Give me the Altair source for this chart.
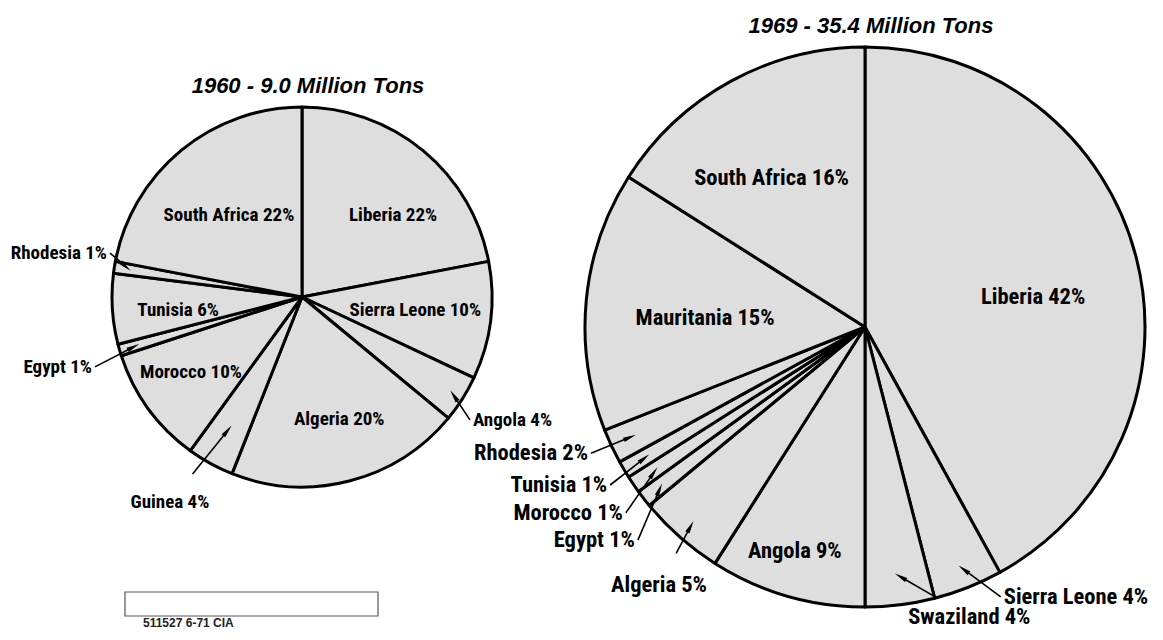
import math
import altair as alt
import pandas as pd

# ---------------- data ----------------
title_1960 = "1960 - 9.0 Million Tons"
title_1969 = "1969 - 35.4 Million Tons"

countries_1960 = ["Liberia", "Sierra Leone", "Angola", "Algeria", "Guinea",
                  "Morocco", "Egypt", "Tunisia", "Rhodesia", "South Africa"]
share_1960 = [22, 10, 4, 20, 4, 10, 1, 6, 1, 22]

countries_1969 = ["Liberia", "Sierra Leone", "Swaziland", "Angola", "Algeria",
                  "Egypt", "Morocco", "Tunisia", "Rhodesia", "Mauritania", "South Africa"]
share_1969 = [42, 4, 4, 9, 5, 1, 1, 1, 2, 15, 16]

footer_text = "511527 6-71 CIA"

# ---------------- layout / style (not data) ----------------
W, H = 1147, 624
FONT = "Liberation Sans Narrow, Roboto Condensed, DejaVu Sans Condensed, sans-serif"
FILL = "#dedede"

pies = [
    dict(key="1960", countries=countries_1960, shares=share_1960, title=title_1960,
         cx=294, cy=289, R=190, fs=19),
    dict(key="1969", countries=countries_1969, shares=share_1969, title=title_1969,
         cx=857, cy=319, R=280, fs=22.5),
]

# label placement: (kind, angle nudge from slice middle [deg], radius factor, tip radius factor)
label_layout = {
    "1960": {
        "Liberia": ("in", 8.4, 0.645), "Sierra Leone": ("in", -0.7, 0.60),
        "Angola": ("left", 3.3, 1.108, 0.93), "Algeria": ("in", -2.6, 0.67),
        "Guinea": ("center", 4.0, 1.283, 0.78), "Morocco": ("in", 2.0, 0.705),
        "Egypt": ("right", -2.2, 1.165, 0.9), "Tunisia": ("in", -2.4, 0.656),
        "Rhodesia": ("right", 3.7, 1.052, 0.92), "South Africa": ("in", -2.1, 0.578),
    },
    "1969": {
        "Liberia": ("in", 4.3, 0.61), "Sierra Leone": ("left", -5.6, 1.084, 0.92),
        "Swaziland": ("center", -12.6, 1.10, 0.89), "Angola": ("in", 1.2, 0.838),
        "Algeria": ("center", -2.8, 1.179, 0.93), "Egypt": ("right", -5.0, 1.12, 0.92),
        "Morocco": ("right", -3.3, 1.09, 0.9), "Tunisia": ("right", -0.9, 1.08, 0.9),
        "Rhodesia": ("right", 0.7, 1.087, 0.91), "Mauritania": ("in", -2.2, 0.572),
        "South Africa": ("in", -3.3, 0.628),
    },
}

ARROW = "M0,-1L0.36,1L-0.36,1Z"
ARROW_SIZE = 170
half = math.sqrt(ARROW_SIZE) / 2 * 0.75


def polar(cx, cy, r, deg):
    a = math.radians(deg)
    return cx + r * math.sin(a), cy - r * math.cos(a)


layers = []
for p in pies:
    cx, cy, R = p["cx"], p["cy"], p["R"]
    slices = pd.DataFrame({"country": p["countries"], "share": p["shares"],
                           "idx": range(len(p["countries"]))})
    total = float(sum(p["shares"]))
    labels, leaders, arrows = [], [], []
    cum = 0.0
    for c, v in zip(p["countries"], p["shares"]):
        mid = (cum + v / 2.0) / total * 360.0
        cum += v
        lay = label_layout[p["key"]][c]
        kind, dth, rf = lay[0], lay[1], lay[2]
        lx, ly = polar(cx, cy, rf * R, mid + dth)
        labels.append(dict(text=f"{c} {v}%", x=lx, y=ly, kind=kind))
        if kind != "in":
            tx, ty = polar(cx, cy, lay[3] * R, mid)
            if kind == "right":
                sx, sy = lx + 3, ly
            elif kind == "left":
                sx, sy = lx - 3, ly
            else:
                dx, dy = tx - lx, ty - ly
                d = math.hypot(dx, dy)
                k = min(36.0, d - 10) / d
                sx, sy = lx + dx * k, ly + dy * k
            dx, dy = tx - sx, ty - sy
            d = math.hypot(dx, dy)
            ux, uy = dx / d, dy / d
            leaders.append(dict(x=sx, y=sy, x2=tx - ux * half, y2=ty - uy * half))
            arrows.append(dict(x=tx - ux * half, y=ty - uy * half,
                               ang=math.degrees(math.atan2(dx, -dy)) % 360))
    lab_df = pd.DataFrame(labels)

    arcs = alt.Chart(slices).mark_arc(
        outerRadius=R, fill=FILL, stroke="black", strokeWidth=3, strokeJoin="round"
    ).encode(
        theta=alt.Theta("share:Q", stack=True),
        order=alt.Order("idx:Q", sort="ascending"),
        x=alt.value(cx), y=alt.value(cy),
    )
    layers.append(arcs)

    for kind, align in [("in", "center"), ("center", "center"), ("left", "left"), ("right", "right")]:
        sub = lab_df[lab_df["kind"] == kind]
        if len(sub) == 0:
            continue
        layers.append(
            alt.Chart(sub).mark_text(font=FONT, fontSize=p["fs"], fontWeight="bold",
                                     align=align, baseline="middle", color="black").encode(
                x=alt.X("x:Q", scale=None, axis=None),
                y=alt.Y("y:Q", scale=None, axis=None),
                text="text:N",
            )
        )
    if leaders:
        layers.append(
            alt.Chart(pd.DataFrame(leaders)).mark_rule(color="black", strokeWidth=1.6).encode(
                x=alt.X("x:Q", scale=None, axis=None), y=alt.Y("y:Q", scale=None, axis=None),
                x2="x2:Q", y2="y2:Q",
            )
        )
        layers.append(
            alt.Chart(pd.DataFrame(arrows)).mark_point(
                shape=ARROW, filled=True, fill="black", size=ARROW_SIZE, opacity=1
            ).encode(
                x=alt.X("x:Q", scale=None, axis=None), y=alt.Y("y:Q", scale=None, axis=None),
                angle=alt.Angle("ang:Q", scale=None),
            )
        )
    # pie title
    layers.append(
        alt.Chart(pd.DataFrame({"t": [p["title"]]})).mark_text(
            font="Liberation Sans, Arial, sans-serif", fontSize=22, fontWeight="bold",
            fontStyle="italic", align="center", baseline="middle", color="black"
        ).encode(x=alt.value(cx + 6), y=alt.value(cy - R - 21), text="t:N")
    )

# reference box and code at the bottom left
layers.append(
    alt.Chart(pd.DataFrame({"a": [0]})).mark_rect(fill="white", stroke="#555555", strokeWidth=1.2).encode(
        x=alt.value(117), x2=alt.value(370), y=alt.value(584), y2=alt.value(608)
    )
)
layers.append(
    alt.Chart(pd.DataFrame({"t": [footer_text]})).mark_text(
        font="Liberation Sans, Arial, sans-serif", fontSize=12, fontWeight="bold",
        align="left", baseline="middle", color="#222222"
    ).encode(x=alt.value(135), y=alt.value(615), text="t:N")
)

chart = alt.layer(*layers).resolve_scale(theta="independent").properties(
    width=W, height=H, padding=0, autosize=alt.AutoSizeParams(type="none")
).configure_view(stroke=None)

chart.save("out.html", embed_options={"renderer": "svg", "actions": False})
